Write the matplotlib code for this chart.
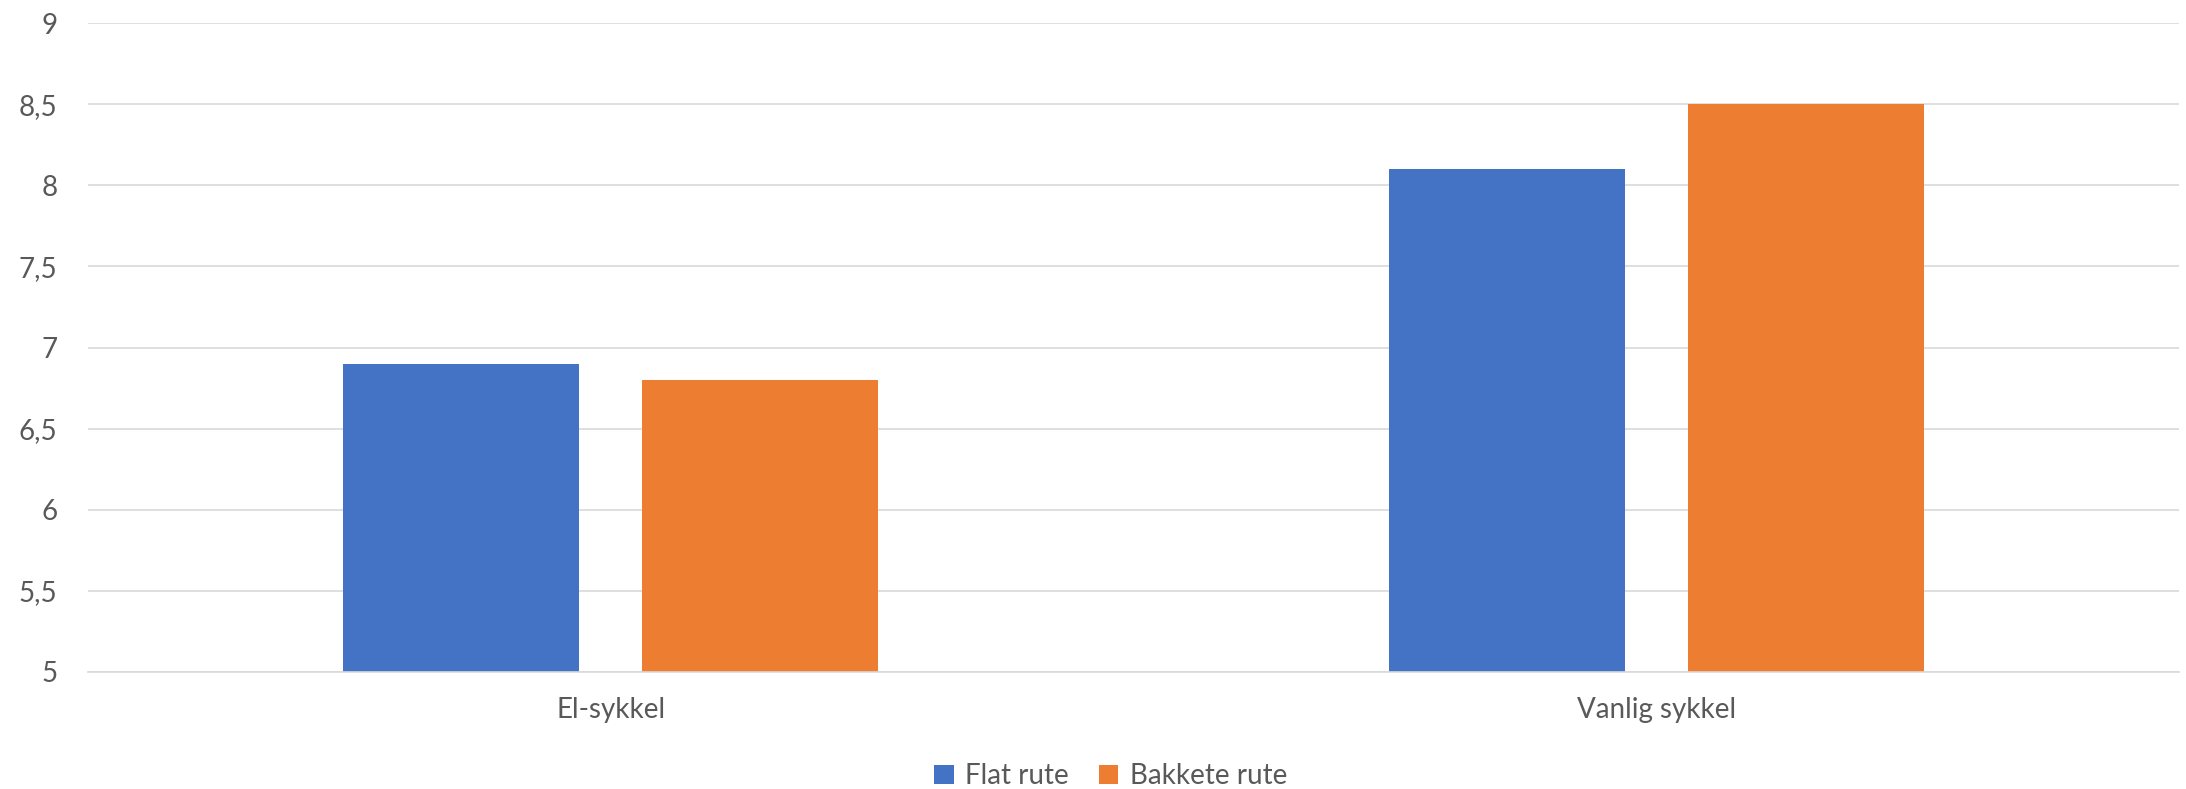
import matplotlib
matplotlib.use("Agg")
import matplotlib.pyplot as plt
import numpy as np
from matplotlib.patches import Patch

categories = ["El-sykkel", "Vanlig sykkel"]
series_names = ["Flat rute", "Bakkete rute"]
flat = [6.9, 8.1]
bakkete = [6.8, 8.5]
yticks = [5, 5.5, 6, 6.5, 7, 7.5, 8, 8.5, 9]
ytick_labels = ["5", "5,5", "6", "6,5", "7", "7,5", "8", "8,5", "9"]

colors = ["#4472C4", "#ED7D31"]
text_color = "#595959"
grid_color = "#D9D9D9"

plt.rcParams['font.family'] = ['Lato', 'DejaVu Sans']
fs = 20

fig = plt.figure(figsize=(21.86, 7.89), dpi=100)
ax = fig.add_axes([88/2186, 1-672/789, (2179-88)/2186, (672-23)/789])

x = np.arange(len(categories))
w = 0.226
off = 0.143
ax.bar(x - off, np.array(flat) - 5, w, bottom=5, color=colors[0], zorder=3)
ax.bar(x + off, np.array(bakkete) - 5, w, bottom=5, color=colors[1], zorder=3)

ax.set_xlim(-0.5, 1.5)
ax.set_ylim(5, 9)
ax.set_yticks(yticks)
ax.set_yticklabels(ytick_labels)
ax.set_xticks(x)
ax.set_xticklabels(categories)
ax.tick_params(axis='y', length=0, pad=22, labelsize=fs, labelcolor=text_color)
ax.tick_params(axis='x', length=0, pad=18, labelsize=fs, labelcolor=text_color)
ax.yaxis.grid(True, color=grid_color, linewidth=1.2, zorder=0)
ax.set_axisbelow(True)
for s in ["top", "right", "left"]:
    ax.spines[s].set_visible(False)
ax.spines["bottom"].set_color(grid_color)
ax.spines["bottom"].set_linewidth(1.2)
ax.spines["bottom"].set_zorder(4)

handles = [Patch(facecolor=c, edgecolor='none') for c in colors]
fig.legend(handles, series_names, loc='center', bbox_to_anchor=(0.508, 1-776/789),
           ncol=2, frameon=False, fontsize=fs, labelcolor=text_color,
           handlelength=0.7, handleheight=0.7, handletextpad=0.4, columnspacing=1.1)

fig.savefig("out.png", dpi=100)
